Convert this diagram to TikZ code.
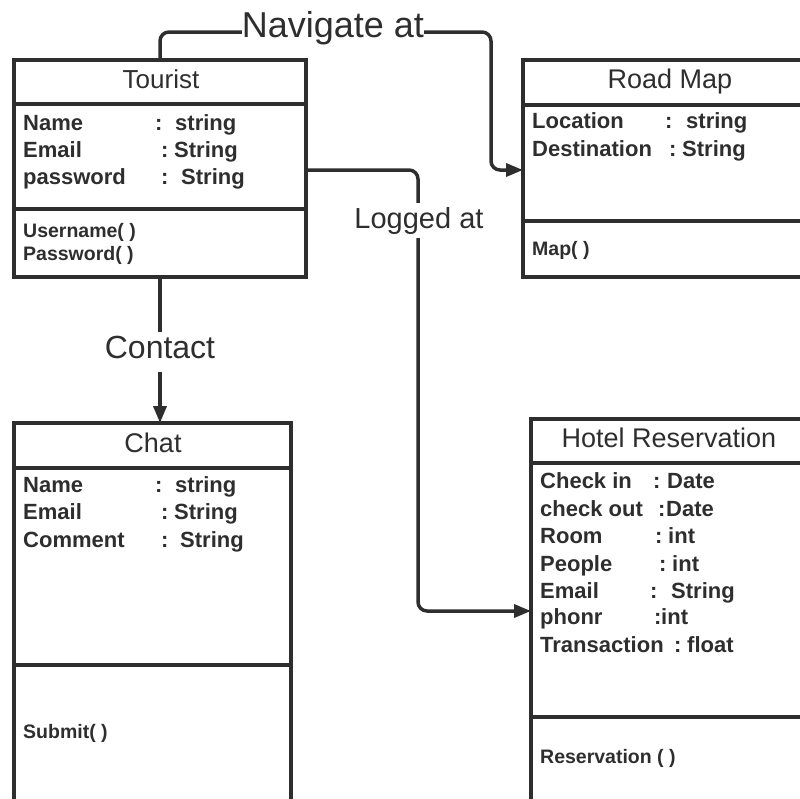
\documentclass[tikz,border=0pt]{standalone}
\usepackage{fontspec}
\setmainfont{Liberation Sans}
\usetikzlibrary{arrows.meta,calc}
\definecolor{ink}{HTML}{2E2E2E}
\begin{document}
\begin{tikzpicture}[x=1pt,y=-1pt,
  umlbox/.style={draw=ink, line width=4pt, rectangle, inner sep=0pt, outer sep=0pt, anchor=north west},
  divider/.style={draw=ink, line width=4pt},
  conn/.style={draw=ink, line width=3.5pt, rounded corners=9pt, -{Triangle[length=17pt,width=13pt]}},
  ttl/.style={anchor=base, text=ink, font=\fontsize{27}{30}\selectfont, inner sep=0pt},
  attr/.style={anchor=base west, text=ink, font=\fontsize{22}{26}\selectfont\bfseries, inner sep=0pt},
  meth/.style={anchor=base west, text=ink, font=\fontsize{19.5}{23}\selectfont\bfseries, inner sep=0pt},
  lbl/.style={fill=white, text=ink, anchor=base, inner xsep=1pt, inner ysep=4pt},
]
\useasboundingbox (0,0) rectangle (800,798);
\clip (0,0) rectangle (800,798);

% class boxes
\node[umlbox, minimum width=292pt, minimum height=217pt] (tourist) at (14,60) {};
\node[umlbox, minimum width=327pt, minimum height=217pt] (roadmap) at (523,60) {};
\node[umlbox, minimum width=277pt, minimum height=427pt] (chat) at (14,423) {};
\node[umlbox, minimum width=319pt, minimum height=431pt] (hotel) at (531,419) {};

% dividers
\draw[divider] (tourist.west |- 0,104) -- (tourist.east |- 0,104);
\draw[divider] (tourist.west |- 0,209) -- (tourist.east |- 0,209);
\draw[divider] (roadmap.west |- 0,105) -- (roadmap.east |- 0,105);
\draw[divider] (roadmap.west |- 0,221) -- (roadmap.east |- 0,221);
\draw[divider] (chat.west |- 0,468) -- (chat.east |- 0,468);
\draw[divider] (chat.west |- 0,665) -- (chat.east |- 0,665);
\draw[divider] (hotel.west |- 0,463) -- (hotel.east |- 0,463);
\draw[divider] (hotel.west |- 0,717) -- (hotel.east |- 0,717);

% titles
\node[ttl, font=\fontsize{26}{30}\selectfont] (touristT) at (161,88) {Tourist};
\node[ttl] (roadmapT) at (670,88) {Road Map};
\node[ttl] (chatT) at (153,452) {Chat};
\node[ttl] (hotelT) at (669,447) {Hotel Reservation};

% attributes
\foreach \y/\n/\cx/\tx/\t [count=\i] in {130/Name/155/175/string, 157/Email/161/174/String, 184/password/161/181/String} {
  \node[attr] (touristA\i) at (23,\y) {\n};
  \node[attr] (touristC\i) at (\cx,\y) {:};
  \node[attr] (touristV\i) at (\tx,\y) {\t};
}
\foreach \y/\n/\cx/\tx/\t [count=\i] in {128/Location/665/686/string, 156/Destination/669/682/String} {
  \node[attr] (roadmapA\i) at (532,\y) {\n};
  \node[attr] (roadmapC\i) at (\cx,\y) {:};
  \node[attr] (roadmapV\i) at (\tx,\y) {\t};
}
\foreach \y/\n/\cx/\tx/\t [count=\i] in {492/Name/155/175/string, 519/Email/161/174/String, 547/Comment/161/180/String} {
  \node[attr] (chatA\i) at (23,\y) {\n};
  \node[attr] (chatC\i) at (\cx,\y) {:};
  \node[attr] (chatV\i) at (\tx,\y) {\t};
}
\foreach \y/\n/\cx/\tx/\t [count=\i] in {488/Check in/653/667/Date, 516/check out/658/666/Date, 543/Room/655/668/int, 571/People/659/672/int, 598/Email/650/671/String, 624/phonr/654/661/int, 652/Transaction/674/687/float} {
  \node[attr] (hotelA\i) at (540,\y) {\n};
  \node[attr] (hotelC\i) at (\cx,\y) {:};
  \node[attr] (hotelV\i) at (\tx,\y) {\t};
}

% methods
\node[meth] (touristM1) at (23,237) {Username( )};
\node[meth] (touristM2) at (23,260) {Password( )};
\node[meth] (roadmapM1) at (532,255) {Map( )};
\node[meth] (chatM1) at (23,738) {Submit( )};
\node[meth] (hotelM1) at (540,763) {Reservation ( )};

% connectors
\draw[conn] (tourist.north) -- (160,32) -- (491,32) -- (491,170) -- (roadmap.west |- 0,170);
\draw[conn] (tourist.east |- 0,170) -- (418,170) -- (418,611) -- (hotel.west |- 0,611);
\draw[conn] (tourist.south) -- (tourist.south |- chat.north);

% connector labels
\node[lbl, font=\fontsize{36}{40}\selectfont, inner xsep=0pt, inner ysep=0pt] (navL) at (333,37) {Navigate at};
\node[lbl, font=\fontsize{29}{32}\selectfont] (logL) at (419,228) {Logged at};
\node[lbl, font=\fontsize{32}{36}\selectfont, text depth=10pt] (conL) at (160,358) {Contact};
\end{tikzpicture}
\end{document}
